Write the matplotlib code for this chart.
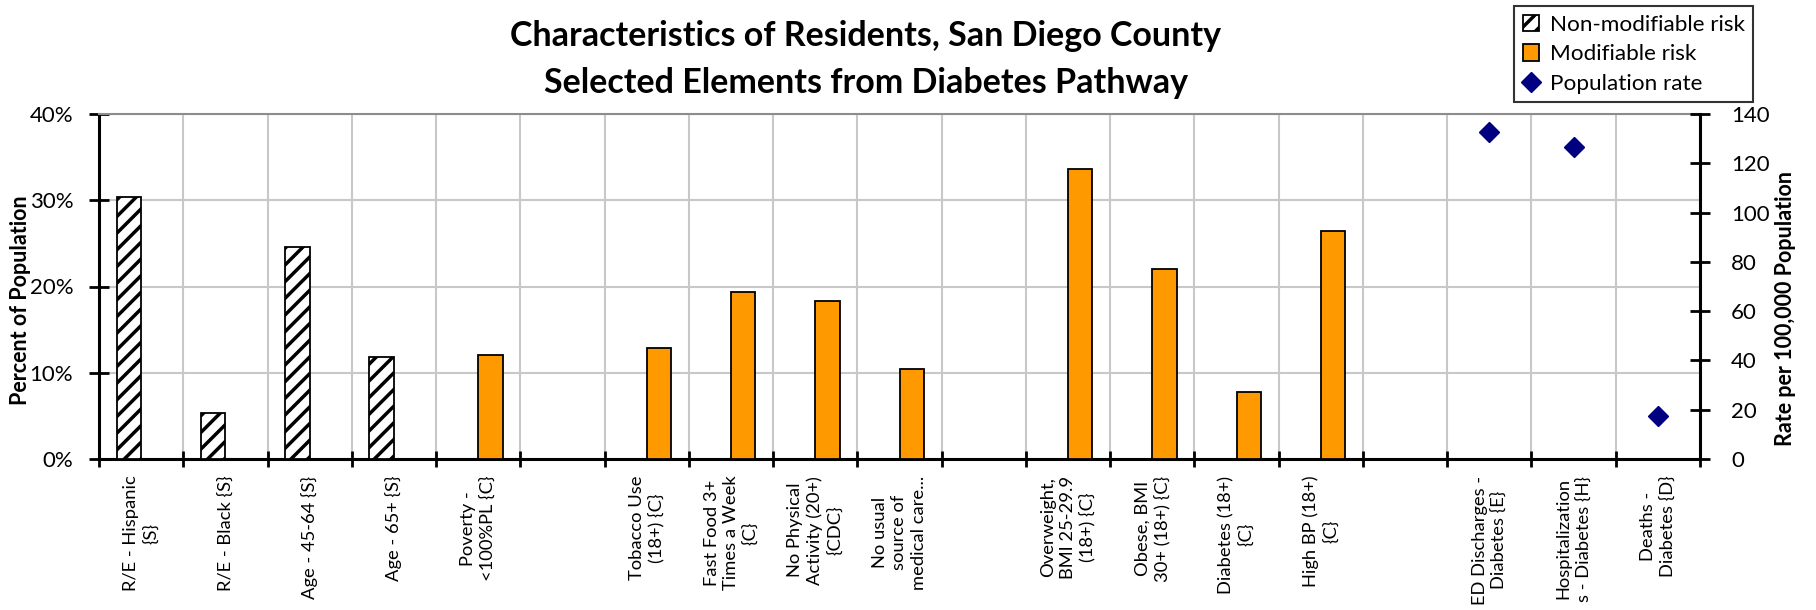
import matplotlib
matplotlib.use("Agg")
import matplotlib.pyplot as plt
import numpy as np
from matplotlib.patches import Patch
from matplotlib.lines import Line2D
from matplotlib.ticker import FixedLocator, FuncFormatter

plt.rcParams['font.family'] = ['Lato', 'DejaVu Sans']
plt.rcParams['hatch.linewidth'] = 2.5

# Category labels (empty strings are spacer slots between groups)
categories = [
    "R/E - Hispanic\n{S}",
    "R/E - Black {S}",
    "Age - 45-64 {S}",
    "Age - 65+ {S}",
    "Poverty -\n<100%PL {C}",
    "",
    "Tobacco Use\n(18+) {C}",
    "Fast Food 3+\nTimes a Week\n{C}",
    "No Physical\nActivity (20+)\n{CDC}",
    "No usual\nsource of\nmedical care...",
    "",
    "Overweight,\nBMI 25-29.9\n(18+) {C}",
    "Obese, BMI\n30+ (18+) {C}",
    "Diabetes (18+)\n{C}",
    "High BP (18+)\n{C}",
    "",
    "ED Discharges -\nDiabetes {E}",
    "Hospitalization\ns - Diabetes {H}",
    "Deaths -\nDiabetes {D}",
]

# Percent of population (left axis)
non_modifiable = [30.4, 5.3, 24.6, 11.8, None, None, None, None, None, None,
                  None, None, None, None, None, None, None, None, None]
modifiable = [None, None, None, None, 12.1, None, 12.9, 19.4, 18.3, 10.4,
              None, 33.6, 22.0, 7.8, 26.4, None, None, None, None]

# Rate per 100,000 population (right axis)
population_rate = [None] * 16 + [132.6, 126.5, 17.3]

pct_ticks = [0, 10, 20, 30, 40]
rate_ticks = [0, 20, 40, 60, 80, 100, 120, 140]

ORANGE = "#FF9900"
NAVY = "#000080"
GRID = "#C8C8C8"

fig = plt.figure(figsize=(18.16, 6.10), dpi=100)
ax = fig.add_axes([99 / 1816, 1 - 459 / 610, (1700 - 99) / 1816, (459 - 114) / 610])

x = np.arange(len(categories))
w = 0.29

def vals(seq):
    return np.array([np.nan if v is None else v for v in seq], dtype=float)

nm = vals(non_modifiable)
md = vals(modifiable)
pr = vals(population_rate)

ax.bar(x - w / 2, nm, width=w, facecolor="white", edgecolor="black",
       hatch="//", linewidth=1.3, zorder=3)
ax.bar(x + w / 2, md, width=w, facecolor=ORANGE, edgecolor="black",
       linewidth=1.3, zorder=3)

ax.set_xlim(-0.5, len(categories) - 0.5)
ax.set_ylim(0, 40)
ax.yaxis.set_major_locator(FixedLocator(pct_ticks))
ax.yaxis.set_major_formatter(FuncFormatter(lambda v, p: f"{v:.0f}%"))

ax.set_xticks(x)
ax.set_xticklabels(categories, rotation=90, ha="center", va="top",
                   multialignment="center", fontsize=13.2, linespacing=1.25)
ax.set_xticks(np.arange(-0.5, len(categories), 1.0), minor=True)
ax.tick_params(axis="x", which="major", length=0, pad=12)
ax.tick_params(axis="x", which="minor", direction="inout", length=12,
               width=2, color="black")
ax.tick_params(axis="y", which="major", direction="inout", length=15,
               width=2, labelsize=16, pad=11)

ax.set_axisbelow(True)
ax.grid(which="minor", axis="x", color=GRID, linewidth=1.5)
ax.grid(which="major", axis="y", color=GRID, linewidth=1.5)

for side in ("left", "bottom"):
    ax.spines[side].set_color("black")
    ax.spines[side].set_linewidth(2.2)
ax.spines["top"].set_color("#8C8C8C")
ax.spines["top"].set_linewidth(1.5)
ax.spines["right"].set_visible(False)

ax2 = ax.twinx()
ax2.plot(x, pr, linestyle="none", marker="D", markersize=10,
         color=NAVY, zorder=4)
ax2.set_ylim(0, 140)
ax2.yaxis.set_major_locator(FixedLocator(rate_ticks))
ax2.tick_params(axis="y", direction="inout", length=15, width=2,
                labelsize=16, pad=15)
for side in ("left", "top", "bottom"):
    ax2.spines[side].set_visible(False)
ax2.spines["right"].set_color("black")
ax2.spines["right"].set_linewidth(2.2)

# Titles and axis labels
fig.text(866 / 1816, 1 - 46 / 610, "Characteristics of Residents, San Diego County",
         ha="center", va="baseline", fontsize=24.5, fontweight="bold")
fig.text(866 / 1816, 1 - 93 / 610, "Selected Elements from Diabetes Pathway",
         ha="center", va="baseline", fontsize=24.5, fontweight="bold")
fig.text(21 / 1816, 1 - 300 / 610, "Percent of Population", rotation=90,
         ha="center", va="center", fontsize=15.5, fontweight="bold")
fig.text(1786 / 1816, 1 - 308 / 610, "Rate per 100,000 Population", rotation=90,
         ha="center", va="center", fontsize=15.5, fontweight="bold")

handles = [
    Patch(facecolor="white", edgecolor="black", hatch="//", linewidth=1.3),
    Patch(facecolor=ORANGE, edgecolor="black", linewidth=1.3),
    Line2D([0], [0], linestyle="none", marker="D", markersize=10, color=NAVY),
]
labels = ["Non-modifiable risk", "Modifiable risk", "Population rate"]
leg = fig.legend(handles, labels, loc="upper left",
                 bbox_to_anchor=(1514 / 1816, 1 - 6 / 610),
                 frameon=True, fancybox=False, fontsize=16.2,
                 handlelength=0.75, handleheight=0.75, handletextpad=0.45,
                 labelspacing=0.42, borderpad=0.38, borderaxespad=0)
leg.get_frame().set_edgecolor("black")
leg.get_frame().set_linewidth(1.5)

fig.savefig("out.png", dpi=100)
